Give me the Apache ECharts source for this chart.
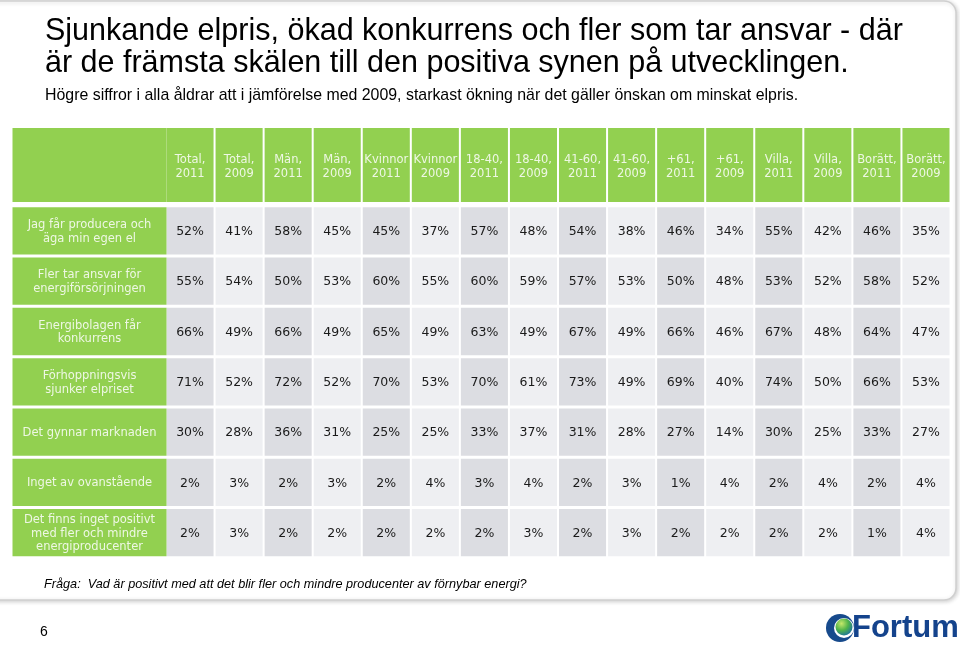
<!DOCTYPE html>
<html>
<head>
<meta charset="utf-8">
<script src="https://cdn.jsdelivr.net/npm/echarts@6/dist/echarts.min.js"></script>
<style>
html,body{margin:0;padding:0;background:#fff;}
#chart{width:960px;height:650px;}
</style>
</head>
<body>
<div id="chart"></div>
<script>
// ---- data ----
var titleLines = ['Sjunkande elpris, ökad konkurrens och fler som tar ansvar - där', 'är de främsta skälen till den positiva synen på utvecklingen.'];
var subtitle = 'Högre siffror i alla åldrar att i jämförelse med 2009, starkast ökning när det gäller önskan om minskat elpris.';
var question = 'Fråga:  Vad är positivt med att det blir fler och mindre producenter av förnybar energi?';
var pageNumber = '6';

var columns = ['Total,\n2011','Total,\n2009','Män,\n2011','Män,\n2009','Kvinnor\n2011','Kvinnor\n2009','18-40,\n2011','18-40,\n2009','41-60,\n2011','41-60,\n2009','+61,\n2011','+61,\n2009','Villa,\n2011','Villa,\n2009','Borätt,\n2011','Borätt,\n2009'];
var rows = ['Jag får producera och\näga min egen el','Fler tar ansvar för\nenergiförsörjningen','Energibolagen får\nkonkurrens','Förhoppningsvis\nsjunker elpriset','Det gynnar marknaden','Inget av ovanstående','Det finns inget positivt\nmed fler och mindre\nenergiproducenter'];

var rowProducera   = [52,41,58,45,45,37,57,48,54,38,46,34,55,42,46,35];
var rowAnsvar      = [55,54,50,53,60,55,60,59,57,53,50,48,53,52,58,52];
var rowKonkurrens  = [66,49,66,49,65,49,63,49,67,49,66,46,67,48,64,47];
var rowElpris      = [71,52,72,52,70,53,70,61,73,49,69,40,74,50,66,53];
var rowMarknaden   = [30,28,36,31,25,25,33,37,31,28,27,14,30,25,33,27];
var rowInget       = [2,3,2,3,2,4,3,4,2,3,1,4,2,4,2,4];
var rowIngetPos    = [2,3,2,2,2,2,2,3,2,3,2,2,2,2,1,4];
var rowValues = [rowProducera,rowAnsvar,rowKonkurrens,rowElpris,rowMarknaden,rowInget,rowIngetPos];

// ---- build ----
var GREEN = '#92d050';
var DARK = '#dcdde2';
var LIGHT = '#eeeff2';
var HEAD_TXT = '#eef7e4';

var cellData = [];
rowValues.forEach(function(r, ri){ r.forEach(function(v, ci){ cellData.push([ci, ri, v]); }); });
var headData = columns.map(function(c, ci){ return [ci, 0, c]; });
var labelData = rows.map(function(r, ri){ return [0, ri, r]; });

function cellRender(fillFn, textFn, font, color, lh, dy){
  return function(params, api){
    var c = api.coord([api.value(0), api.value(1)]);
    var s = api.size([1, 1]);
    var idx = params.dataIndex;
    return {
      type:'group',
      children:[
        {type:'rect', shape:{x:c[0]-s[0]/2+1, y:c[1]-s[1]/2+1.5, width:s[0]-2, height:s[1]-3}, style:{fill:fillFn(api.value(0), api.value(1))}},
        {type:'text', style:{text:textFn(idx), x:c[0], y:c[1]+dy, align:'center', verticalAlign:'middle', font:font, fill:color, lineHeight:lh}}
      ]
    };
  };
}

var chart = echarts.init(document.getElementById('chart'));
var option = {
  animation:false,
  backgroundColor:'#fff',
  title:{
    text: titleLines.join('\n'),
    subtext: subtitle,
    left: 40, top: 11, itemGap: 6,
    textStyle:{fontFamily:'Liberation Sans', fontSize:30.5, fontWeight:'normal', color:'#000', lineHeight:32},
    subtextStyle:{fontFamily:'Liberation Sans', fontSize:15.9, color:'#000', lineHeight:19}
  },
  grid:[
    {left:165.5, top:205.8, width:785, height:352},   // data cells
    {left:165.5, top:126.5, width:785, height:77},    // header
    {left:11.5, top:205.8, width:156, height:352},    // row labels
    {left:11.5, top:126.5, width:156, height:77}      // corner
  ],
  xAxis:[
    {gridIndex:0, type:'category', data:columns, show:false},
    {gridIndex:1, type:'category', data:columns, show:false},
    {gridIndex:2, type:'category', data:[''], show:false},
    {gridIndex:3, type:'category', data:[''], show:false}
  ],
  yAxis:[
    {gridIndex:0, type:'category', data:rows, inverse:true, show:false},
    {gridIndex:1, type:'category', data:[''], show:false},
    {gridIndex:2, type:'category', data:rows, inverse:true, show:false},
    {gridIndex:3, type:'category', data:[''], show:false}
  ],
  series:[
    {type:'custom', xAxisIndex:0, yAxisIndex:0, data:cellData,
     renderItem: cellRender(function(ci){ return ci%2===0 ? DARK : LIGHT; }, function(i){ return cellData[i][2] + '%'; }, '12.5px "DejaVu Sans"', '#1a1a1a', 15, 1)},
    {type:'custom', xAxisIndex:1, yAxisIndex:1, data:headData,
     renderItem: cellRender(function(){ return GREEN; }, function(i){ return headData[i][2]; }, '11.5px "DejaVu Sans"', HEAD_TXT, 14, 2)},
    {type:'custom', xAxisIndex:2, yAxisIndex:2, data:labelData,
     renderItem: cellRender(function(){ return GREEN; }, function(i){ return labelData[i][2]; }, '11.5px "DejaVu Sans"', HEAD_TXT, 13.5, 1)},
    {type:'custom', xAxisIndex:3, yAxisIndex:3, data:[[0,0,'']],
     renderItem: cellRender(function(){ return GREEN; }, function(){ return ''; }, '11px "DejaVu Sans"', HEAD_TXT, 14, 0)}
  ],
  graphic:[
    {type:'rect', z:-10, shape:{x:-20, y:1, width:976, height:599, r:12},
     style:{fill:'#fff', stroke:'#cfcfcf', lineWidth:1.5, shadowBlur:4, shadowOffsetX:1, shadowOffsetY:1, shadowColor:'rgba(0,0,0,0.18)'}},
    {type:'text', left:44, top:578, style:{text:question, font:'italic 12.7px "Liberation Sans"', fill:'#000'}},
    {type:'text', left:40, top:625, style:{text:pageNumber, font:'14px "Liberation Sans"', fill:'#000'}},
    {type:'group', left:826, top:614, children:[
      {type:'circle', shape:{cx:15, cy:16, r:14}, style:{fill:'#174a8c'}},
      {type:'circle', shape:{cx:19, cy:16, r:10}, style:{fill:'#fff'}},
      {type:'circle', shape:{cx:19, cy:15, r:8.5}, style:{fill:new echarts.graphic.RadialGradient(0.35,0.3,0.8,[{offset:0,color:'#c6e86a'},{offset:0.5,color:'#4fb44a'},{offset:1,color:'#1569a8'}])}}
    ]},
    {type:'text', left:852, top:613, style:{text:'Fortum', font:'bold 31px "Liberation Sans"', fill:'#14438c'}}
  ]
};
chart.setOption(option);
</script>
</body>
</html>
